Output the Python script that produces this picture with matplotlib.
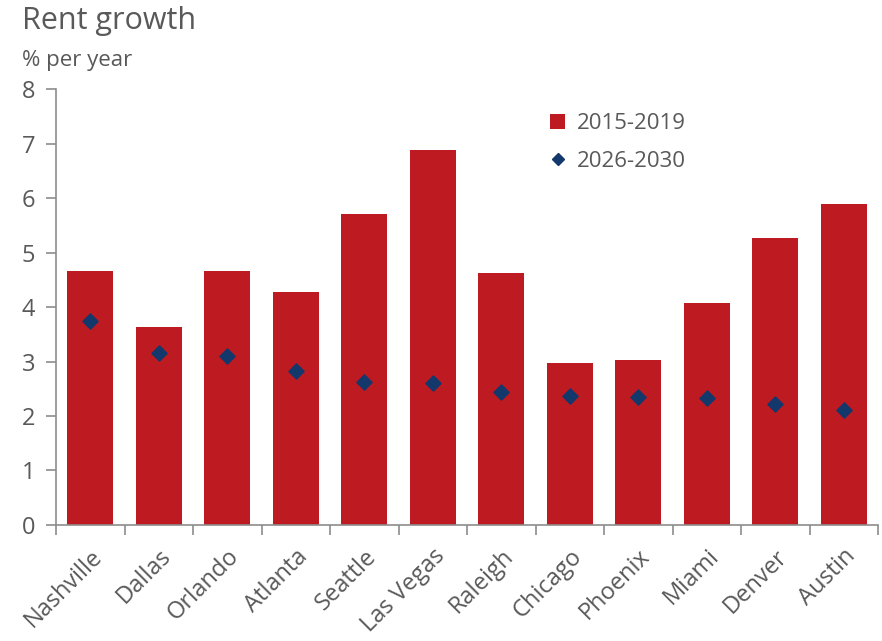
import matplotlib
matplotlib.use("Agg")
import matplotlib.pyplot as plt
from matplotlib.lines import Line2D
from matplotlib.patches import Patch
import numpy as np

cities = ["Nashville", "Dallas", "Orlando", "Atlanta", "Seattle", "Las Vegas",
          "Raleigh", "Chicago", "Phoenix", "Miami", "Denver", "Austin"]
growth_2015_2019 = [4.67, 3.63, 4.67, 4.27, 5.70, 6.89, 4.63, 2.97, 3.02, 4.07, 5.26, 5.90]
growth_2026_2030 = [3.74, 3.15, 3.11, 2.82, 2.62, 2.60, 2.44, 2.36, 2.34, 2.33, 2.22, 2.11]
y_ticks = [0, 1, 2, 3, 4, 5, 6, 7, 8]

plt.rcParams["font.family"] = ["Open Sans", "DejaVu Sans"]
grey = "#595959"
axis_grey = "#8c8c8c"
red = "#BE1A21"
navy = "#13386B"

fig = plt.figure(figsize=(8.82, 6.41), dpi=100)
ax = fig.add_axes([0.0635, 0.181, 0.932, 0.680])

x = np.arange(len(cities))
ax.bar(x, growth_2015_2019, width=0.67, color=red, zorder=2)
ax.scatter(x, growth_2026_2030, marker="D", s=60, color=navy, zorder=3)

ax.set_xlim(-0.5, len(cities) - 0.5)
ax.set_ylim(0, 8)
ax.set_yticks(y_ticks)
ax.set_yticklabels([str(t) for t in y_ticks], fontsize=17, color=grey)

# category labels centred under bars, tick marks at category boundaries
ax.set_xticks(x)
ax.set_xticklabels(cities, rotation=45, ha="right", rotation_mode="anchor",
                   fontsize=17, color=grey)
ax.tick_params(axis="x", length=0, pad=14)
ax.set_xticks(np.arange(-0.5, len(cities)), minor=True)
ax.tick_params(axis="x", which="minor", length=7, width=1.2, color=axis_grey, direction="out")
ax.tick_params(axis="y", length=7, width=1.2, color=axis_grey, direction="out", pad=8)

for side in ("top", "right"):
    ax.spines[side].set_visible(False)
for side in ("left", "bottom"):
    ax.spines[side].set_color(axis_grey)
    ax.spines[side].set_linewidth(1.2)

handles = [
    Patch(facecolor=red, edgecolor="none"),
    Line2D([], [], marker="D", linestyle="none", color=navy, markersize=6.5),
]
leg = ax.legend(handles, ["2015-2019", "2026-2030"], loc="upper left",
                bbox_to_anchor=(0.59, 0.965), frameon=False,
                fontsize=16, handlelength=0.7, handleheight=0.7, handletextpad=0.5,
                labelspacing=0.75, borderaxespad=0)
for t in leg.get_texts():
    t.set_color(grey)

fig.text(0.025, 0.968, "Rent growth", fontsize=22, color=grey, va="center", ha="left")
fig.text(0.025, 0.905, "% per year", fontsize=16, color=grey, va="center", ha="left")

fig.savefig("out.png", dpi=100)
